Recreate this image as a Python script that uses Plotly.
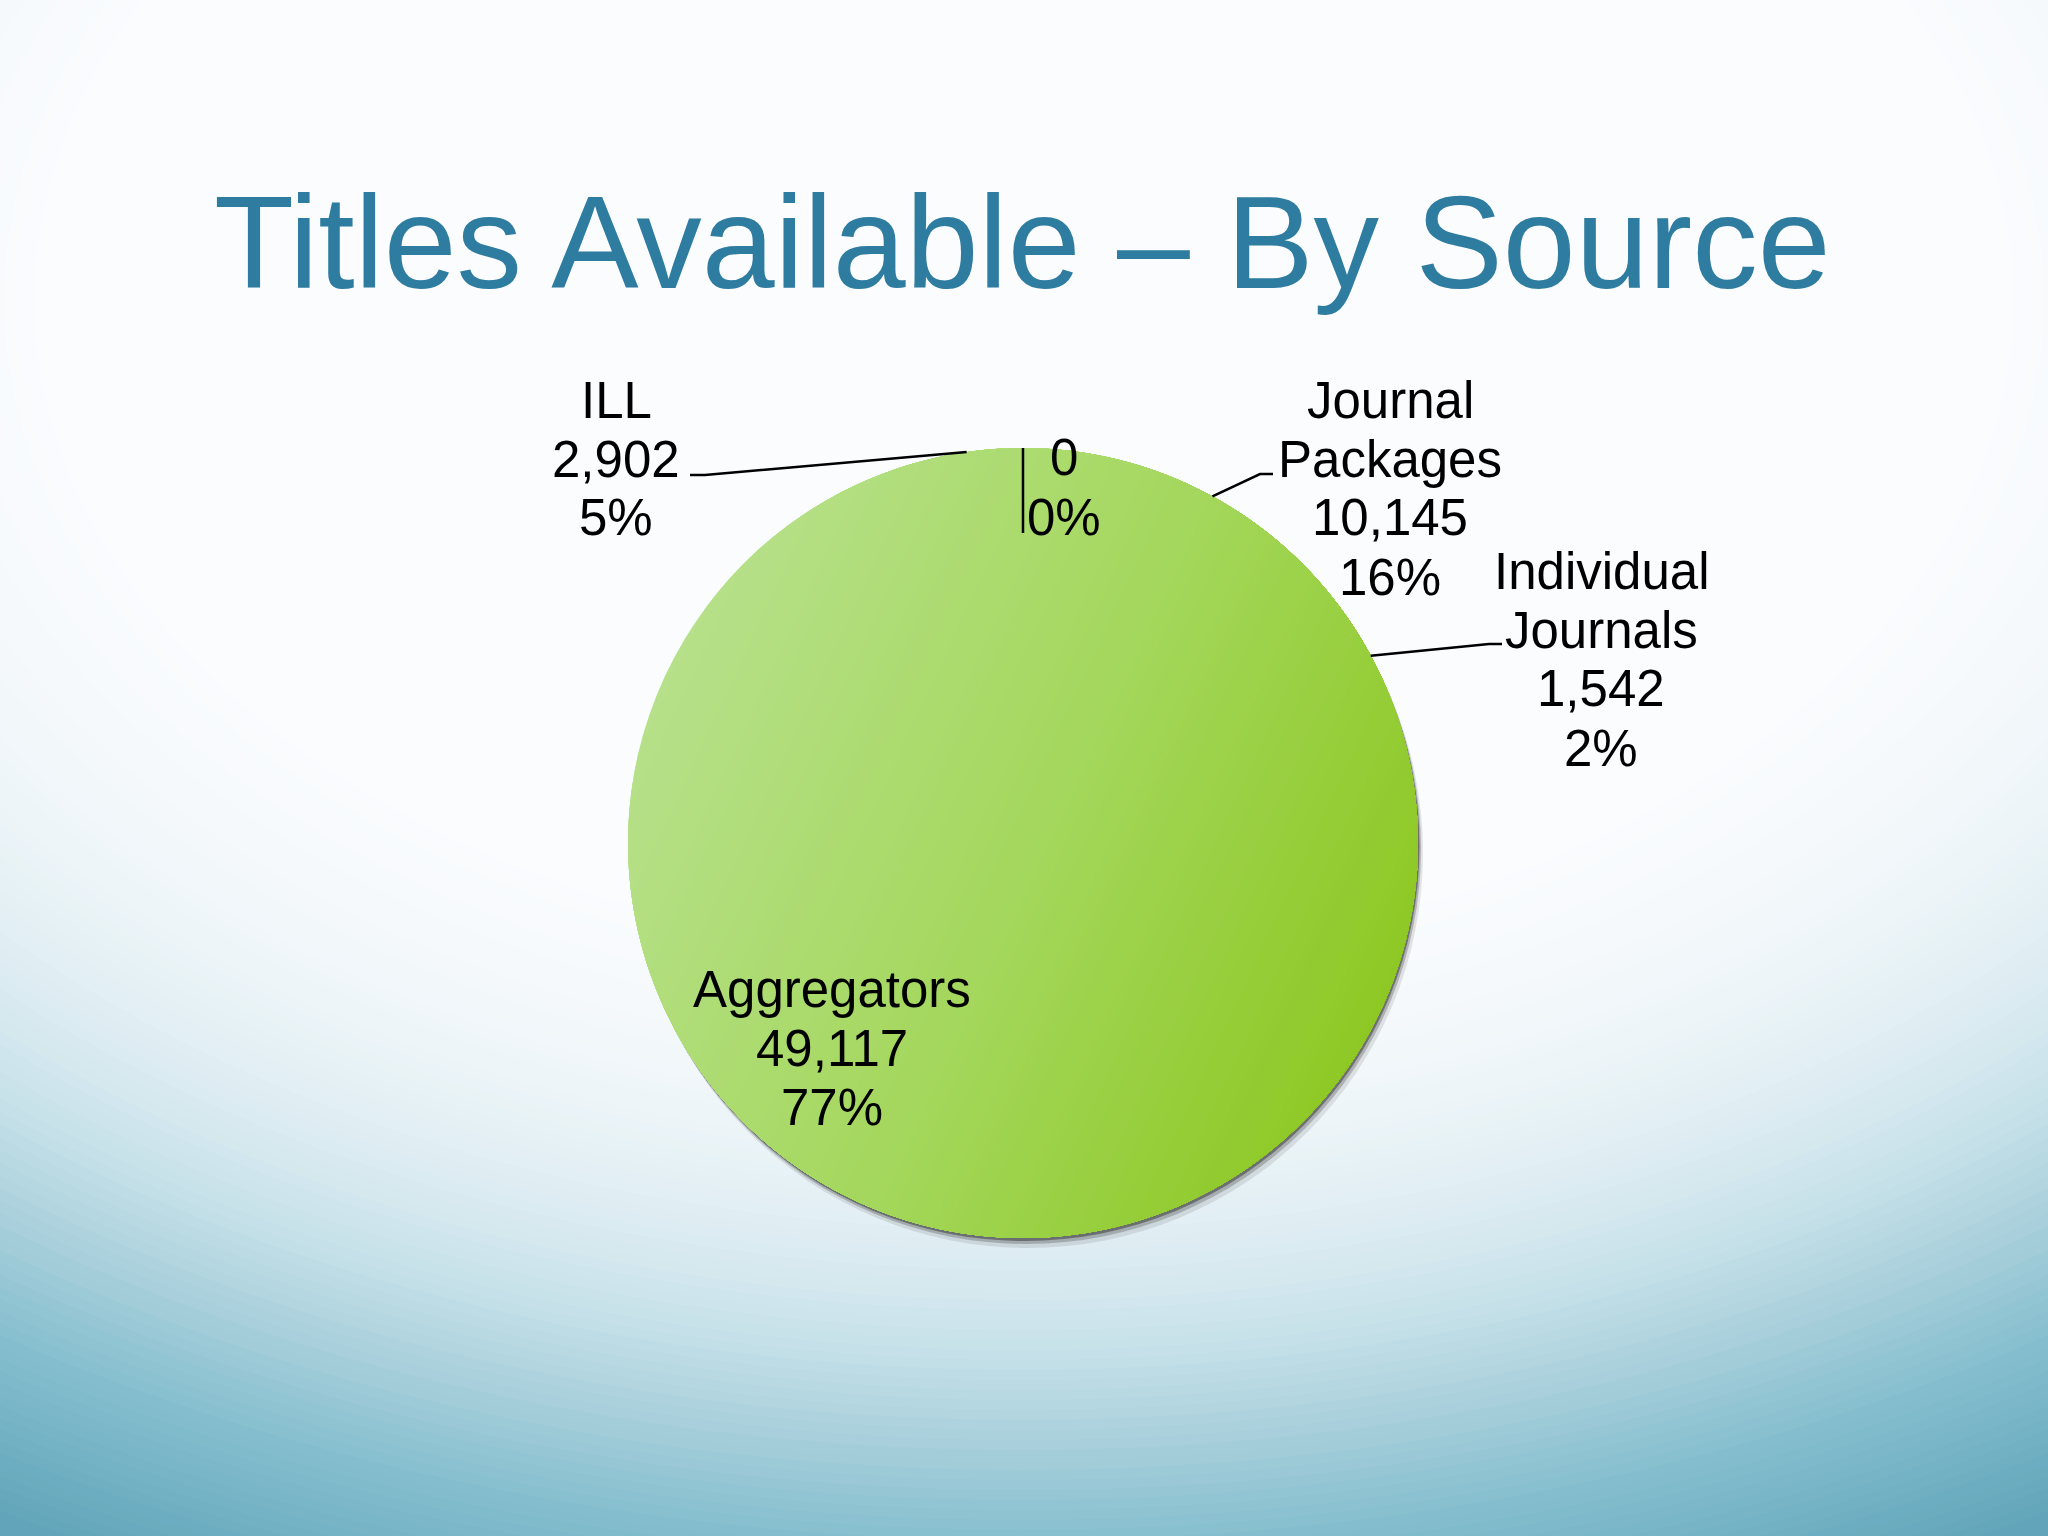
import math
import plotly.graph_objects as go

W, H = 2048, 1536

# ---- data ----
categories = ["", "Journal Packages", "Individual Journals", "Aggregators", "ILL"]
values = [0, 10145, 1542, 49117, 2902]
title_text = "Titles Available \u2013 By Source"

# ---- layout helpers (pixel -> paper) ----
def px(x):
    return x / W

def py(y):
    return 1 - y / H

# pie geometry (pixels)
CX, CY, R = 1023, 843, 395
FONT = "Liberation Sans, Arial, sans-serif"

# label block positions: center x, center y of first line (pixels)
label_pos = {0: (1064, 458), 1: (1390, 400), 2: (1601, 571), 3: (832, 989), 4: (616, 400)}
LINE_PITCH = 59
# leader line bend points (pixels) after the slice edge point
leaders = {0: [(1023, 533)], 1: [(1260, 474), (1273, 474)],
           2: [(1489, 644), (1502, 644)], 4: [(705, 475), (690, 475)]}

fig = go.Figure()

def hex2rgb(h):
    h = h.lstrip("#")
    return tuple(int(h[i:i + 2], 16) for i in (0, 2, 4))

def lerp(c0, c1, t):
    a, b = hex2rgb(c0), hex2rgb(c1)
    return "rgb(%d,%d,%d)" % tuple(round(a[i] + (b[i] - a[i]) * t) for i in range(3))

def ramp(stops, v):
    for (v0, c0), (v1, c1) in zip(stops[:-1], stops[1:]):
        if min(v0, v1) <= v <= max(v0, v1):
            return lerp(c0, c1, (v - v0) / (v1 - v0))
    return stops[-1][1] if v > stops[-1][0] else stops[0][1]

# ---- background: nested ellipses from teal to white ----
bg_stops = [(950, "#fafcfe"), (1050, "#f6f9fc"), (1150, "#edf5f8"), (1250, "#dfedf3"),
            (1350, "#c8e2ea"), (1450, "#a8cfdb"), (1550, "#84bece"), (1700, "#62a5ba")]

shapes = []
ECY = 300
yb = 1700
while yb >= 950:
    ry = yb - ECY
    rx = ry * 1.5
    shapes.append(dict(type="circle", xref="paper", yref="paper", layer="below",
                       x0=px(1024 - rx), x1=px(1024 + rx), y0=py(ECY + ry), y1=py(ECY - ry),
                       fillcolor=ramp(bg_stops, yb), line=dict(width=0)))
    yb -= 10

# pie drop shadow
for off, col in [(10, "rgba(90,90,90,0.15)"), (6, "rgba(70,70,70,0.3)"), (3, "rgba(50,50,50,0.5)")]:
    shapes.append(dict(type="circle", xref="paper", yref="paper", layer="below",
                       x0=px(CX - R + off * 0.5), x1=px(CX + R + off * 0.5),
                       y0=py(CY + R + off), y1=py(CY - R + off),
                       fillcolor=col, line=dict(width=0)))

# pie fill shading: linear gradient built from circular segments (under a lightly tinted pie)
g_stops = [(-1.0, "#bbe394"), (0.0, "#a5d85e"), (1.0, "#88c516")]
theta = math.radians(25)
t = -1.0
while t < 0.995:
    a = math.acos(max(-1.0, min(1.0, t)))
    n = max(8, int(120 * a / math.pi))
    pts = []
    for j in range(n + 1):
        phi = theta - a + 2 * a * j / n
        pts.append((CX + R * math.cos(phi), CY + R * math.sin(phi)))
    path = "M " + " L ".join("%.6f %.6f" % (px(x), py(y)) for x, y in pts) + " Z"
    shapes.append(dict(type="path", path=path, xref="paper", yref="paper", layer="below",
                       fillcolor=ramp(g_stops, t), line=dict(width=0)))
    t += 0.02

# ---- pie ----
fig.add_trace(go.Pie(
    labels=categories, values=values, sort=False, direction="clockwise", rotation=0,
    textinfo="none", showlegend=False,
    marker=dict(colors=["rgba(165,216,94,0.2)"] * len(values), line=dict(width=0)),
    domain=dict(x=[px(CX - R), px(CX + R)], y=[py(CY + R), py(CY - R)]),
))

# ---- labels & leader lines ----
total = sum(values)
annotations = []
cum = 0
for i, (name, v) in enumerate(zip(categories, values)):
    mid = (cum + v / 2) / total
    cum += v
    pct = round(v / total * 100)
    lines = (name.split(" ") if name else []) + ["{:,}".format(v), "{}%".format(pct)]
    lx, ly = label_pos[i]
    for k, tx in enumerate(lines):
        annotations.append(dict(text=tx, x=px(lx), y=py(ly + k * LINE_PITCH), xref="paper", yref="paper",
                                showarrow=False, xanchor="center", yanchor="middle",
                                font=dict(family=FONT, size=51, color="#000000")))
    if i in leaders:
        ang = 2 * math.pi * mid
        ex, ey = CX + R * math.sin(ang), CY - R * math.cos(ang)
        pts = [(ex, ey)] + leaders[i]
        path = "M " + " L ".join("%f %f" % (px(a), py(b)) for a, b in pts)
        shapes.append(dict(type="path", path=path, xref="paper", yref="paper", layer="above",
                           line=dict(color="#000000", width=2.5)))

annotations.append(dict(text=title_text, x=px(1022), y=py(242), xref="paper", yref="paper",
                        showarrow=False, xanchor="center", yanchor="middle",
                        font=dict(family=FONT, size=131, color="#2e7ca0")))

fig.update_layout(
    width=W, height=H, margin=dict(l=0, r=0, t=0, b=0),
    paper_bgcolor="#62a5ba", plot_bgcolor="rgba(0,0,0,0)",
    shapes=shapes, annotations=annotations,
)

fig.write_html("out.html", config={"displayModeBar": False},
               post_script="document.body.style.margin='0';")
